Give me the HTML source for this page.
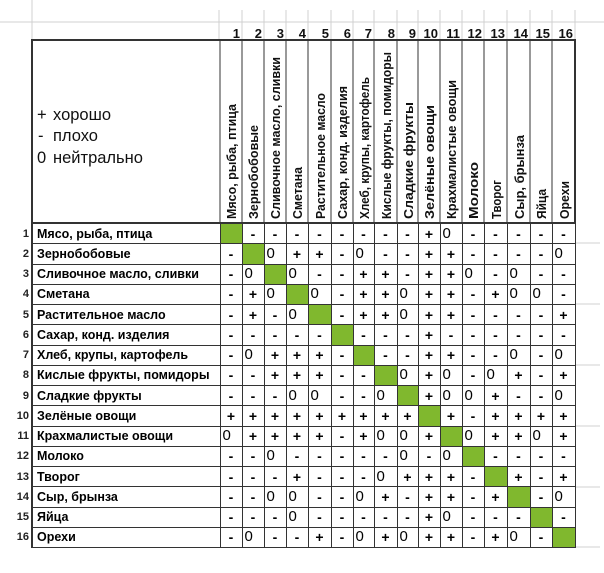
<!DOCTYPE html>
<html><head><meta charset="utf-8"><style>
body{margin:0;width:604px;height:573px;background:#fff;position:relative;overflow:hidden;font-family:"Liberation Sans",Arial,sans-serif}
svg{position:absolute;left:0;top:0}
table{position:absolute;left:0;top:223px;border-collapse:collapse;table-layout:fixed}
td{border:1px solid #333;padding:0;height:19.25px;text-align:center;font-weight:bold;font-size:14px;line-height:14px;overflow:hidden;white-space:nowrap}
td.n{border:none;border-right:2px solid #333;text-align:right;font-size:11px;padding-right:2px;color:#222}
td.l{text-align:left;font-size:12.5px;padding-left:4px;border-left:2px solid #333}
td.g{background:#80b82e}
td.z{font-weight:normal;font-size:15px;text-align:left;padding-left:2px}
</style></head><body>
<svg width="604" height="573">
<g stroke="#d0d0d0" stroke-width="1">
<line x1="0" y1="22" x2="604" y2="22"/><line x1="32" y1="0" x2="32" y2="40"/>
<line x1="219" y1="10" x2="219" y2="40"/><line x1="242" y1="10" x2="242" y2="40"/><line x1="264" y1="10" x2="264" y2="40"/><line x1="286" y1="10" x2="286" y2="40"/><line x1="308" y1="10" x2="308" y2="40"/><line x1="331" y1="10" x2="331" y2="40"/><line x1="353" y1="10" x2="353" y2="40"/><line x1="374" y1="10" x2="374" y2="40"/><line x1="397" y1="10" x2="397" y2="40"/><line x1="418" y1="10" x2="418" y2="40"/><line x1="440" y1="10" x2="440" y2="40"/><line x1="462" y1="10" x2="462" y2="40"/><line x1="484" y1="10" x2="484" y2="40"/><line x1="507" y1="10" x2="507" y2="40"/><line x1="530" y1="10" x2="530" y2="40"/><line x1="552" y1="10" x2="552" y2="40"/><line x1="575" y1="10" x2="575" y2="40"/>
<line x1="575" y1="243" x2="600" y2="243"/><line x1="575" y1="304" x2="600" y2="304"/><line x1="575" y1="365" x2="600" y2="365"/><line x1="575" y1="426" x2="600" y2="426"/><line x1="575" y1="487" x2="600" y2="487"/><line x1="575" y1="547" x2="600" y2="547"/>
</g>
<g font-size="13" font-weight="bold" text-anchor="end" fill="#111">
<text x="240" y="38">1</text><text x="262" y="38">2</text><text x="284" y="38">3</text><text x="306" y="38">4</text><text x="329" y="38">5</text><text x="351" y="38">6</text><text x="372" y="38">7</text><text x="395" y="38">8</text><text x="416" y="38">9</text><text x="438" y="38">10</text><text x="460" y="38">11</text><text x="482" y="38">12</text><text x="505" y="38">13</text><text x="528" y="38">14</text><text x="550" y="38">15</text><text x="573" y="38">16</text>
</g>
<rect x="32" y="40" width="543" height="183" fill="none" stroke="#333" stroke-width="2"/>
<g stroke="#333" stroke-width="1">
<line x1="220" y1="40" x2="220" y2="223"/><line x1="242" y1="40" x2="242" y2="223"/><line x1="264" y1="40" x2="264" y2="223"/><line x1="286" y1="40" x2="286" y2="223"/><line x1="308" y1="40" x2="308" y2="223"/><line x1="331" y1="40" x2="331" y2="223"/><line x1="353" y1="40" x2="353" y2="223"/><line x1="374" y1="40" x2="374" y2="223"/><line x1="397" y1="40" x2="397" y2="223"/><line x1="418" y1="40" x2="418" y2="223"/><line x1="440" y1="40" x2="440" y2="223"/><line x1="462" y1="40" x2="462" y2="223"/><line x1="484" y1="40" x2="484" y2="223"/><line x1="507" y1="40" x2="507" y2="223"/><line x1="530" y1="40" x2="530" y2="223"/><line x1="552" y1="40" x2="552" y2="223"/>
</g>
<g font-size="13" font-weight="bold" fill="#111" lengthAdjust="spacingAndGlyphs">
<text transform="translate(236,219) rotate(-90)" textLength="115" lengthAdjust="spacingAndGlyphs">Мясо, рыба, птица</text>
<text transform="translate(258,219) rotate(-90)" textLength="94" lengthAdjust="spacingAndGlyphs">Зернобобовые</text>
<text transform="translate(280,219) rotate(-90)" textLength="162" lengthAdjust="spacingAndGlyphs">Сливочное масло, сливки</text>
<text transform="translate(302,219) rotate(-90)" textLength="52" lengthAdjust="spacingAndGlyphs">Сметана</text>
<text transform="translate(325,219) rotate(-90)" textLength="126" lengthAdjust="spacingAndGlyphs">Растительное масло</text>
<text transform="translate(347,219) rotate(-90)" textLength="133" lengthAdjust="spacingAndGlyphs">Сахар, конд. изделия</text>
<text transform="translate(369,219) rotate(-90)" textLength="142" lengthAdjust="spacingAndGlyphs">Хлеб, крупы, картофель</text>
<text transform="translate(391,219) rotate(-90)" textLength="167" lengthAdjust="spacingAndGlyphs">Кислые фрукты, помидоры</text>
<text transform="translate(413,219) rotate(-90)" textLength="117" lengthAdjust="spacingAndGlyphs">Сладкие фрукты</text>
<text transform="translate(434,219) rotate(-90)" textLength="114" lengthAdjust="spacingAndGlyphs">Зелёные овощи</text>
<text transform="translate(456,219) rotate(-90)" textLength="139" lengthAdjust="spacingAndGlyphs">Крахмалистые овощи</text>
<text transform="translate(478,219) rotate(-90)" textLength="57" lengthAdjust="spacingAndGlyphs">Молоко</text>
<text transform="translate(501,219) rotate(-90)" textLength="39" lengthAdjust="spacingAndGlyphs">Творог</text>
<text transform="translate(524,219) rotate(-90)" textLength="84" lengthAdjust="spacingAndGlyphs">Сыр, брынза</text>
<text transform="translate(546,219) rotate(-90)" textLength="30" lengthAdjust="spacingAndGlyphs">Яйца</text>
<text transform="translate(569,219) rotate(-90)" textLength="38" lengthAdjust="spacingAndGlyphs">Орехи</text>
</g>
<g font-size="16.5" fill="#111">
<text x="37" y="120">+</text><text x="53" y="120">хорошо</text>
<text x="38" y="141">-</text><text x="53" y="141">плохо</text>
<text x="37" y="163">0</text><text x="53" y="163">нейтрально</text>
</g>
</svg>
<table>
<colgroup><col style="width:32px"><col style="width:188px"><col style="width:22px"><col style="width:22px"><col style="width:22px"><col style="width:22px"><col style="width:23px"><col style="width:22px"><col style="width:21px"><col style="width:23px"><col style="width:21px"><col style="width:22px"><col style="width:22px"><col style="width:22px"><col style="width:23px"><col style="width:23px"><col style="width:22px"><col style="width:23px"></colgroup>
<tr><td class="n">1</td><td class="l">Мясо, рыба, птица</td><td class="g"></td><td>-</td><td>-</td><td>-</td><td>-</td><td>-</td><td>-</td><td>-</td><td>-</td><td>+</td><td class="z">0</td><td>-</td><td>-</td><td>-</td><td>-</td><td>-</td></tr>
<tr><td class="n">2</td><td class="l">Зернобобовые</td><td>-</td><td class="g"></td><td class="z">0</td><td>+</td><td>+</td><td>-</td><td class="z">0</td><td>-</td><td>-</td><td>+</td><td>+</td><td>-</td><td>-</td><td>-</td><td>-</td><td class="z">0</td></tr>
<tr><td class="n">3</td><td class="l">Сливочное масло, сливки</td><td>-</td><td class="z">0</td><td class="g"></td><td class="z">0</td><td>-</td><td>-</td><td>+</td><td>+</td><td>-</td><td>+</td><td>+</td><td class="z">0</td><td>-</td><td class="z">0</td><td>-</td><td>-</td></tr>
<tr><td class="n">4</td><td class="l">Сметана</td><td>-</td><td>+</td><td class="z">0</td><td class="g"></td><td class="z">0</td><td>-</td><td>+</td><td>+</td><td class="z">0</td><td>+</td><td>+</td><td>-</td><td>+</td><td class="z">0</td><td class="z">0</td><td>-</td></tr>
<tr><td class="n">5</td><td class="l">Растительное масло</td><td>-</td><td>+</td><td>-</td><td class="z">0</td><td class="g"></td><td>-</td><td>+</td><td>+</td><td class="z">0</td><td>+</td><td>+</td><td>-</td><td>-</td><td>-</td><td>-</td><td>+</td></tr>
<tr><td class="n">6</td><td class="l">Сахар, конд. изделия</td><td>-</td><td>-</td><td>-</td><td>-</td><td>-</td><td class="g"></td><td>-</td><td>-</td><td>-</td><td>+</td><td>-</td><td>-</td><td>-</td><td>-</td><td>-</td><td>-</td></tr>
<tr><td class="n">7</td><td class="l">Хлеб, крупы, картофель</td><td>-</td><td class="z">0</td><td>+</td><td>+</td><td>+</td><td>-</td><td class="g"></td><td>-</td><td>-</td><td>+</td><td>+</td><td>-</td><td>-</td><td class="z">0</td><td>-</td><td class="z">0</td></tr>
<tr><td class="n">8</td><td class="l">Кислые фрукты, помидоры</td><td>-</td><td>-</td><td>+</td><td>+</td><td>+</td><td>-</td><td>-</td><td class="g"></td><td class="z">0</td><td>+</td><td class="z">0</td><td>-</td><td class="z">0</td><td>+</td><td>-</td><td>+</td></tr>
<tr><td class="n">9</td><td class="l">Сладкие фрукты</td><td>-</td><td>-</td><td>-</td><td class="z">0</td><td class="z">0</td><td>-</td><td>-</td><td class="z">0</td><td class="g"></td><td>+</td><td class="z">0</td><td class="z">0</td><td>+</td><td>-</td><td>-</td><td class="z">0</td></tr>
<tr><td class="n">10</td><td class="l">Зелёные овощи</td><td>+</td><td>+</td><td>+</td><td>+</td><td>+</td><td>+</td><td>+</td><td>+</td><td>+</td><td class="g"></td><td>+</td><td>-</td><td>+</td><td>+</td><td>+</td><td>+</td></tr>
<tr><td class="n">11</td><td class="l">Крахмалистые овощи</td><td class="z">0</td><td>+</td><td>+</td><td>+</td><td>+</td><td>-</td><td>+</td><td class="z">0</td><td class="z">0</td><td>+</td><td class="g"></td><td class="z">0</td><td>+</td><td>+</td><td class="z">0</td><td>+</td></tr>
<tr><td class="n">12</td><td class="l">Молоко</td><td>-</td><td>-</td><td class="z">0</td><td>-</td><td>-</td><td>-</td><td>-</td><td>-</td><td class="z">0</td><td>-</td><td class="z">0</td><td class="g"></td><td>-</td><td>-</td><td>-</td><td>-</td></tr>
<tr><td class="n">13</td><td class="l">Творог</td><td>-</td><td>-</td><td>-</td><td>+</td><td>-</td><td>-</td><td>-</td><td class="z">0</td><td>+</td><td>+</td><td>+</td><td>-</td><td class="g"></td><td>+</td><td>-</td><td>+</td></tr>
<tr><td class="n">14</td><td class="l">Сыр, брынза</td><td>-</td><td>-</td><td class="z">0</td><td class="z">0</td><td>-</td><td>-</td><td class="z">0</td><td>+</td><td>-</td><td>+</td><td>+</td><td>-</td><td>+</td><td class="g"></td><td>-</td><td class="z">0</td></tr>
<tr><td class="n">15</td><td class="l">Яйца</td><td>-</td><td>-</td><td>-</td><td class="z">0</td><td>-</td><td>-</td><td>-</td><td>-</td><td>-</td><td>+</td><td class="z">0</td><td>-</td><td>-</td><td>-</td><td class="g"></td><td>-</td></tr>
<tr><td class="n">16</td><td class="l">Орехи</td><td>-</td><td class="z">0</td><td>-</td><td>-</td><td>+</td><td>-</td><td class="z">0</td><td>+</td><td class="z">0</td><td>+</td><td>+</td><td>-</td><td>+</td><td class="z">0</td><td>-</td><td class="g"></td></tr>
</table>
</body></html>
